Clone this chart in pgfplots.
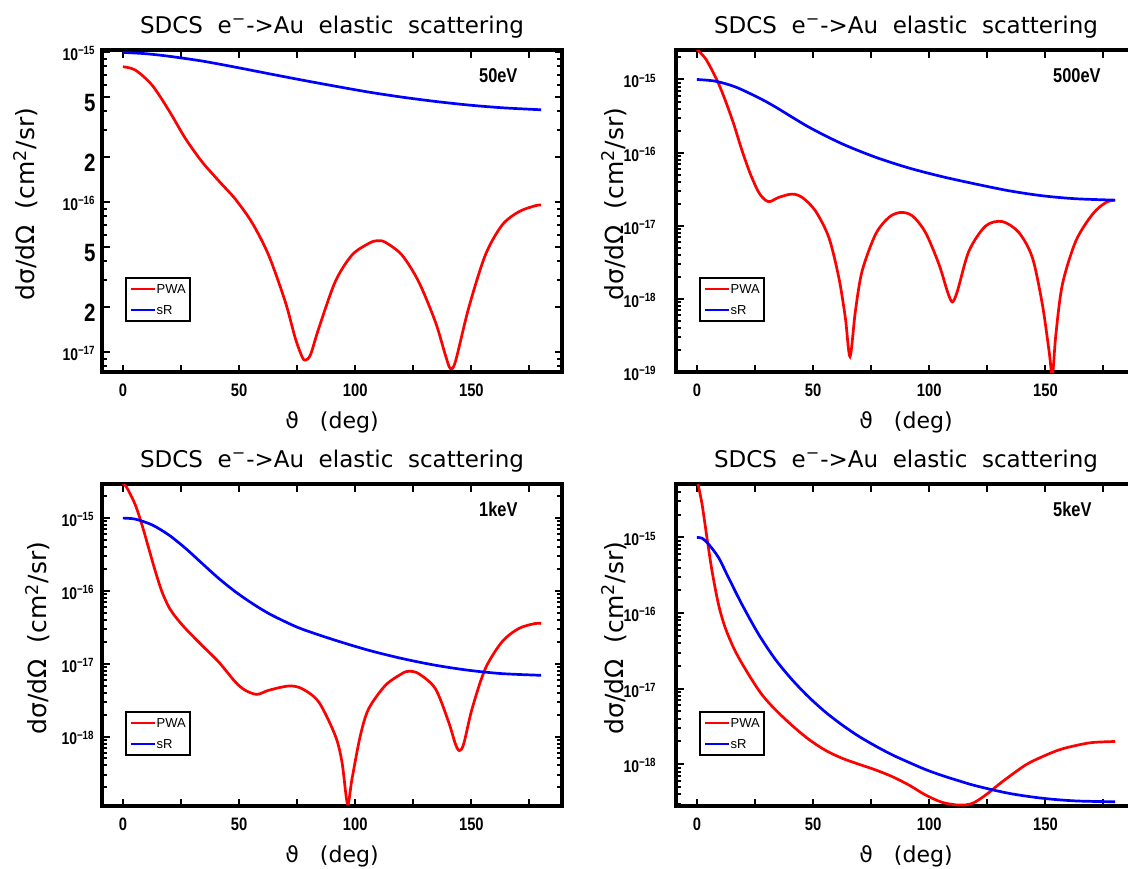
\documentclass[border=0pt]{standalone}
\usepackage{fontspec}
\usepackage{pgfplots}
\pgfplotsset{compat=1.18}
\setmainfont{DejaVu Sans}
\newfontfamily\tf{Liberation Sans}[FakeStretch=0.82]
\newfontfamily\lf{Liberation Sans}
\newcommand\bl[1]{\raisebox{-3.3pt}{\fontsize{12.5}{12.5}\selectfont #1}}
\newcommand\tkf{\tf\bfseries\fontsize{8.5}{8.5}\selectfont}
\newcommand\xkf{\tf\bfseries\fontsize{9}{9}\selectfont}
\newcommand\ekf{\tf\bfseries\fontsize{10}{10}\selectfont}
\newcommand\lgf{\lf\fontsize{6.5}{6.5}\selectfont}
\pgfplotsset{legend image code/.code={\draw[#1] (0pt,0pt) -- (12pt,0pt);}}
\pgfplotsset{
 every axis title/.style={at={(axis description cs:0.5,1)}, anchor=base, yshift=8.35pt, inner sep=0pt, font=\fontsize{11.5}{12}\selectfont},
 every axis x label/.style={at={(axis description cs:0.5,0)}, anchor=base, yshift=-28pt, inner sep=0pt, font=\fontsize{11}{12}\selectfont},
 every axis y label/.style={rotate=90, anchor=base, inner sep=0pt, font=\fontsize{12.5}{13}\selectfont},
 sdcs/.style={
  scale only axis, width=230pt, height=161pt,
  xmin=-9, xmax=189,
  axis line style={line width=1.6pt},
  every tick/.style={black, line width=1pt},
  major tick length=3.75pt, minor tick length=2.4pt,
  tick align=inside,
  xtick={0,25,...,175}, xticklabels={0,,50,,100,,150,},
  xticklabel style={font=\xkf, anchor=base, yshift=-12.4pt, inner sep=0pt},
  yticklabel style={font=\tkf, anchor=base east, inner sep=0pt, yshift=-4.2pt, xshift=-9.5pt},
  minor ytick={2e-19,3e-19,4e-19,5e-19,6e-19,7e-19,8e-19,9e-19,2e-18,3e-18,4e-18,5e-18,6e-18,7e-18,8e-18,9e-18,2e-17,3e-17,4e-17,5e-17,6e-17,7e-17,8e-17,9e-17,2e-16,3e-16,4e-16,5e-16,6e-16,7e-16,8e-16,9e-16,2e-15,3e-15,4e-15,5e-15},
  title={SDCS\ \ e\textsuperscript{−}->Au\ \ elastic\ \ scattering},
  xlabel={ϑ\ \ \ (deg)},
  ylabel={dσ/dΩ\ \ (cm\textsuperscript{2}/sr)},
  legend style={at={(axis description cs:0.05,0.155)}, anchor=south west, draw=black, line width=0.9pt,
    inner xsep=2pt, inner ysep=2.6pt, font=\lgf, row sep=4.5pt,
    nodes={inner sep=0pt, text height=5pt, text depth=1pt}, cells={anchor=west}},
 },
 pwa/.style={red, line width=1.35pt, smooth},
 sr/.style={blue, line width=1.35pt, smooth},
}
\begin{document}
\begin{tikzpicture}
\useasboundingbox (0pt,0pt) rectangle (564pt,434pt);
% ---------------- 50 eV
\begin{axis}[ymode=log, sdcs, at={(51pt,248pt)}, anchor=south west,
  ymin=7.32e-18, ymax=1.026e-15,
  ytick={1e-17,2e-17,5e-17,1e-16,2e-16,5e-16,1e-15},
  yticklabels={10\textsuperscript{−17}\hspace{7pt},\bl{2},\bl{5},10\textsuperscript{−16}\hspace{7pt},\bl{2},\bl{5},10\textsuperscript{−15}\hspace{7pt}},
  yticklabel style={xshift=6.5pt},
  minor ytick={8e-18,9e-18,3e-17,4e-17,6e-17,7e-17,8e-17,9e-17,3e-16,4e-16,6e-16,7e-16,8e-16,9e-16},
  ylabel style={at={(axis description cs:-0.1457,0.522)}}]
\addplot[pwa] coordinates {(0,7.94e-16)(5.3,7.55e-16)(12.5,6.00e-16)(19.7,4.08e-16)(26.9,2.64e-16)(34,1.85e-16)(41.2,1.38e-16)(48.4,1.04e-16)(55.6,7.24e-17)(62.7,4.41e-17)(69.9,2.15e-17)(74.2,1.23e-17)(77.1,9.27e-18)(78.5,8.79e-18)(80.7,9.51e-18)(84.3,1.43e-17)(91.4,2.93e-17)(98.6,4.41e-17)(105.8,5.27e-17)(109.4,5.50e-17)(113,5.36e-17)(120.1,4.41e-17)(127.3,2.93e-17)(134.5,1.58e-17)(138.8,9.51e-18)(140.9,7.74e-18)(143.1,8.57e-18)(148.8,1.95e-17)(156,4.41e-17)(163.2,6.98e-17)(170.4,8.57e-17)(177.5,9.40e-17)(180,9.51e-17)};
\addlegendentry{PWA}
\addplot[sr] coordinates {(0,9.89e-16)(9.7,9.70e-16)(19.7,9.33e-16)(34,8.67e-16)(48.4,7.89e-16)(62.7,7.14e-16)(77.1,6.47e-16)(91.4,5.89e-16)(105.8,5.38e-16)(120.1,4.98e-16)(134.5,4.66e-16)(148.8,4.41e-16)(163.2,4.23e-16)(180,4.10e-16)};
\addlegendentry{sR}
\node[anchor=west, font=\ekf, inner sep=0pt] at (axis description cs:0.819,0.92) {50eV};
\end{axis}
% ---------------- 500 eV
\begin{axis}[ymode=log, sdcs, at={(338pt,248pt)}, anchor=south west,
  ymin=1e-19, ymax=2.53e-15,
  ytick={1e-19,1e-18,1e-17,1e-16,1e-15},
  yticklabels={10\textsuperscript{−19},10\textsuperscript{−18},10\textsuperscript{−17},10\textsuperscript{−16},10\textsuperscript{−15}},
  ylabel style={at={(axis description cs:-0.1152,0.522)}}]
\addplot[pwa] coordinates {(0,2.6e-15)(3.6,1.95e-15)(6.5,1.34e-15)(9.3,8.81e-16)(12.2,5.20e-16)(15.8,2.48e-16)(19.4,1.07e-16)(23,5.11e-17)(26.6,2.86e-17)(29.5,2.24e-17)(31.6,2.15e-17)(35.2,2.44e-17)(40.9,2.71e-17)(45.3,2.44e-17)(51,1.60e-17)(56.8,6.89e-18)(61.1,1.94e-18)(63.9,5.47e-19)(65.9,1.63e-19)(68.2,6.76e-19)(71.1,2.40e-18)(76.9,7.66e-18)(82.6,1.30e-17)(87.6,1.52e-17)(92.7,1.37e-17)(98.4,8.07e-18)(104.2,2.96e-18)(107.8,1.27e-18)(109.9,9.08e-19)(112.1,1.27e-18)(117.1,4.52e-18)(124.3,9.95e-18)(131.5,1.14e-17)(138.6,8.07e-18)(144.4,3.66e-18)(148.7,8.36e-19)(151.6,1.91e-19)(153,9e-20)(154.5,3.24e-19)(157.3,1.57e-18)(163.1,6.19e-18)(170.3,1.44e-17)(176,2.08e-17)(180,2.24e-17)};
\addlegendentry{PWA}
\addplot[sr] coordinates {(0,1.00e-15)(7.9,9.48e-16)(16.5,7.93e-16)(26.6,5.62e-16)(33.8,4.21e-16)(48.1,2.24e-16)(62.5,1.32e-16)(76.9,8.65e-17)(91.2,6.17e-17)(105.6,4.69e-17)(120,3.72e-17)(134.3,3.01e-17)(148.7,2.57e-17)(163.1,2.34e-17)(180,2.24e-17)};
\addlegendentry{sR}
\node[anchor=west, font=\ekf, inner sep=0pt] at (axis description cs:0.819,0.92) {500eV};
\end{axis}
% ---------------- 1 keV
\begin{axis}[ymode=log, sdcs, at={(51pt,31pt)}, anchor=south west,
  ymin=1.11e-19, ymax=2.94e-15,
  ytick={1e-18,1e-17,1e-16,1e-15},
  yticklabels={10\textsuperscript{−18},10\textsuperscript{−17},10\textsuperscript{−16},10\textsuperscript{−15}},
  yticklabel style={xshift=6pt},
  ylabel style={at={(axis description cs:-0.1196,0.522)}}]
\addplot[pwa] coordinates {(0,3.02e-15)(1.8,2.59e-15)(5.3,1.53e-15)(8.2,8.09e-16)(11.1,3.86e-16)(14,1.84e-16)(16.8,9.75e-17)(19.7,6.07e-17)(22.6,4.42e-17)(26.9,3.05e-17)(34,1.79e-17)(41.2,1.06e-17)(48.4,5.61e-18)(52.7,4.31e-18)(57.7,3.79e-18)(62.7,4.31e-18)(71.3,4.94e-18)(77.1,4.54e-18)(84.3,2.98e-18)(91.4,1.03e-18)(94.3,4.44e-19)(96.7,1.18e-19)(98.6,2.61e-19)(102.2,1.03e-18)(105.8,2.41e-18)(113,5.05e-18)(120.1,7.31e-18)(123,7.87e-18)(127.3,7.31e-18)(134.5,4.54e-18)(140.2,1.58e-18)(143.1,7.93e-19)(144.8,6.41e-19)(146.7,7.93e-19)(150.3,2.41e-18)(156,8.57e-18)(163.2,2.00e-17)(170.4,3.05e-17)(177.5,3.57e-17)(180,3.57e-17)};
\addlegendentry{PWA}
\addplot[sr] coordinates {(0,1.00e-15)(5.3,9.68e-16)(12.5,8.09e-16)(19.7,5.89e-16)(26.9,3.86e-16)(34,2.40e-16)(41.2,1.49e-16)(48.4,9.75e-17)(55.6,6.75e-17)(62.7,4.91e-17)(69.9,3.77e-17)(77.1,2.99e-17)(91.4,2.10e-17)(105.8,1.53e-17)(120.1,1.18e-17)(134.5,9.53e-18)(148.8,8.13e-18)(163.2,7.31e-18)(180,6.93e-18)};
\addlegendentry{sR}
\node[anchor=west, font=\ekf, inner sep=0pt] at (axis description cs:0.819,0.92) {1keV};
\end{axis}
% ---------------- 5 keV
\begin{axis}[ymode=log, sdcs, at={(338pt,31pt)}, anchor=south west,
  ymin=2.8e-19, ymax=5.1e-15,
  ytick={1e-18,1e-17,1e-16,1e-15},
  yticklabels={10\textsuperscript{−18},10\textsuperscript{−17},10\textsuperscript{−16},10\textsuperscript{−15}},
  ylabel style={at={(axis description cs:-0.1152,0.522)}}]
\addplot[pwa] coordinates {(0,6.0e-15)(2.2,2.77e-15)(4.3,1.00e-15)(6.5,3.61e-16)(9.3,1.30e-16)(12.2,6.38e-17)(16.5,3.13e-17)(22.3,1.53e-17)(28,8.32e-18)(33.8,5.26e-18)(40.9,3.27e-18)(48.1,2.14e-18)(55.3,1.53e-18)(62.5,1.20e-18)(69.7,1.00e-18)(76.9,8.41e-19)(84.1,6.85e-19)(91.2,5.32e-19)(98.4,3.92e-19)(105.6,3.13e-19)(112.8,2.88e-19)(118.5,3.03e-19)(124.3,3.92e-19)(131.5,5.89e-19)(141.5,9.79e-19)(148.7,1.26e-18)(155.9,1.55e-18)(163.1,1.77e-18)(170.3,1.94e-18)(180,2.00e-18)};
\addlegendentry{PWA}
\addplot[sr] coordinates {(0,1.00e-15)(2.2,9.79e-16)(5,8.17e-16)(9.3,5.43e-16)(13.6,2.94e-16)(19.4,1.30e-16)(26.6,5.21e-17)(33.8,2.43e-17)(40.9,1.32e-17)(48.1,7.76e-18)(55.3,4.90e-18)(62.5,3.31e-18)(69.7,2.34e-18)(76.9,1.74e-18)(84.1,1.33e-18)(91.2,1.06e-18)(98.4,8.51e-19)(105.6,7.08e-19)(112.8,6.03e-19)(120,5.19e-19)(134.3,4.12e-19)(148.7,3.55e-19)(163.1,3.27e-19)(180,3.19e-19)};
\addlegendentry{sR}
\node[anchor=west, font=\ekf, inner sep=0pt] at (axis description cs:0.819,0.92) {5keV};
\end{axis}
\end{tikzpicture}
\end{document}
